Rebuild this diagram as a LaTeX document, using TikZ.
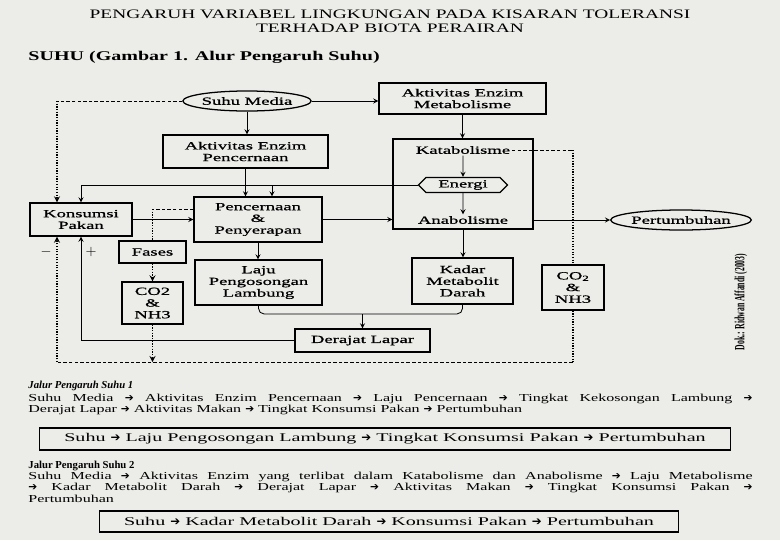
\documentclass[tikz,border=0pt]{standalone}
\usepackage{fontspec}
\setmainfont[FakeStretch=1.5]{Liberation Serif}
\newfontfamily\boxfont[FakeStretch=1.7,FakeBold=0.8]{Liberation Serif}
\newfontfamily\ringfont[FakeStretch=1.7]{Liberation Serif}
\newfontfamily\headfont{Liberation Serif}
\newfontfamily\dokfont[FakeStretch=0.55]{Liberation Serif}
\newfontfamily\arrfont{DejaVu Sans}
\newcommand{\arr}{{\arrfont\char"2794}}
\usetikzlibrary{shapes.geometric,shapes.symbols}
\definecolor{kertas}{RGB}{236,236,233}

\begin{document}
\begin{tikzpicture}[>=stealth,x=0.025cm,y=-0.025cm,semithick,
  kotak/.style={draw,line width=0.9pt,inner sep=1pt,align=center,font=\boxfont\fontsize{7.8}{8.3}\selectfont},
  elips/.style={draw,ellipse,line width=0.9pt,inner sep=0pt,font=\boxfont\fontsize{7.8}{8.3}\selectfont},
  teks/.style={inner sep=1pt,font=\boxfont\fontsize{7.8}{8.3}\selectfont},
  ringkas/.style={draw,line width=0.8pt,inner sep=0pt,font=\ringfont\fontsize{8.4}{9}\selectfont},
  paragraf/.style={anchor=north west,inner sep=0pt,text width=18.1cm,align=justify,font=\fontsize{7.6}{8.1}\selectfont},
  putus/.style={dash pattern=on 2.5pt off 1.5pt},
  titik/.style={densely dotted,line width=0.9pt}]
  \fill[kertas] (0,0) rectangle (780,540);
  \useasboundingbox (0,0) rectangle (780,540);
  %Judul
  \node[align=center,font=\fontsize{9.2}{10}\selectfont] (judul) at (390,21) {PENGARUH VARIABEL LINGKUNGAN PADA KISARAN TOLERANSI\\TERHADAP BIOTA PERAIRAN};
  \node[anchor=base west,inner sep=0pt,font=\bfseries\fontsize{9.5}{10}\selectfont] (subjudul) at (28,60) {SUHU (Gambar 1. Alur Pengaruh Suhu)};
  %Baris atas
  \node[elips,minimum width=2.875cm,minimum height=0.5cm] (suhu) at (247,101) {Suhu Media};
  \node[kotak,minimum width=4.175cm,minimum height=0.775cm] (aem) at (462.5,98.5) {Aktivitas Enzim\\Metabolisme};
  \node[kotak,minimum width=4.125cm,minimum height=0.825cm] (aep) at (245.5,151.5) {Aktivitas Enzim\\Pencernaan};
  %Blok metabolisme
  \node[kotak,minimum width=3.5cm,minimum height=2.25cm] (kat) at (463,184) {};
  \node[teks] (katab) at (463,150) {Katabolisme};
  \node[draw,signal,signal to=east and west,line width=0.9pt,minimum width=2.225cm,minimum height=0.375cm,inner sep=0pt,font=\boxfont\fontsize{7.8}{8.3}\selectfont] (energi) at (463,185) {Energi};
  \node[teks] (anab) at (463,220) {Anabolisme};
  %Baris tengah
  \node[kotak,minimum width=2.55cm,minimum height=0.825cm] (kons) at (81,219.5) {Konsumsi\\Pakan};
  \node[kotak,minimum width=3.2cm,minimum height=1.125cm] (pen) at (258,219.5) {Pencernaan\\\&\\Penyerapan};
  \node[elips,minimum width=3.45cm,minimum height=0.5cm] (tumbuh) at (681,220) {Pertumbuhan};
  %Baris bawah
  \node[kotak,minimum width=1.675cm,minimum height=0.55cm] (fases) at (152.5,252) {Fases};
  \node[kotak,minimum width=1.525cm,minimum height=1.05cm] (co2a) at (152.5,303) {CO2\\\&\\NH3};
  \node[kotak,minimum width=3.175cm,minimum height=1.125cm] (laju) at (258.5,282.5) {Laju\\Pengosongan\\Lambung};
  \node[kotak,minimum width=2.525cm,minimum height=1.15cm] (kadar) at (462.5,281) {Kadar\\Metabolit\\Darah};
  \node[kotak,minimum width=1.55cm,minimum height=1.125cm] (co2b) at (573,287.5) {CO\textsubscript{2}\\\&\\NH3};
  \node[kotak,minimum width=3.375cm,minimum height=0.575cm] (lapar) at (362.5,340.5) {Derajat Lapar};
  \node[rotate=90,font=\dokfont\bfseries\fontsize{10}{10}\selectfont] (dok) at (741,302) {Dok.: Ridwan Affandi (2003)};
  %Titik bantu
  \coordinate (kiri) at (57,101);
  \coordinate (bawahkiri) at (57,362);
  \coordinate (bawahkanan) at (573,362);
  \coordinate (kanan) at (573,150);
  \coordinate (cabang) at (272,185);
  \coordinate (fasesatas) at (152.5,209);
  \coordinate (gabung) at (362.5,314);
  %Panah
  \draw[->] (suhu.east) -- (suhu.east -| aem.west);
  \draw[->] (suhu.south) -- (suhu.south |- aep.north);
  \draw[putus] (suhu.west) -- (kiri);
  \draw[titik,->] (kiri) -- (kiri |- kons.north);
  \draw[->] (aem.south) -- (aem.south |- kat.north);
  \draw[->] (aep.south) -- (aep.south |- pen.north);
  \draw[->] (energi.west) -| (kons.north);
  \draw[->] (cabang) -- (cabang |- pen.north);
  \draw[->] (katab) -- (energi);
  \draw[->] (energi) -- (anab);
  \draw[putus] (katab.east) -- (kanan);
  \draw[titik] (kanan) -- (co2b.north);
  \draw[titik] (co2b.south) -- (bawahkanan);
  \draw[putus] (bawahkanan) -- (bawahkiri);
  \draw[titik,->] (bawahkiri) -- (bawahkiri |- kons.south);
  \draw[->] (kons) -- (pen);
  \draw[->] (pen.east) -- (pen.east -| kat.west);
  \draw[->] (anab -| kat.east) -- (tumbuh.west);
  \draw[putus] (pen.west |- fasesatas) -- (fasesatas);
  \draw[titik] (fasesatas) -- (fases.north);
  \draw[titik,->] (fases) -- (co2a);
  \draw[titik,->] (co2a.south) -- (co2a.south |- bawahkiri);
  \draw[->] (pen.south) -- (pen.south |- laju.north);
  \draw[->] (kat.south) -- (kat.south |- kadar.north);
  \draw[rounded corners=4pt] (laju.south) |- (gabung);
  \draw[rounded corners=4pt] (kadar.south) |- (gabung);
  \draw[->] (gabung) -- (lapar.north);
  \draw[->] (lapar.west) -| (kons.south);
  \node (minus) at (46,252) {$-$};
  \node (plus) at (91,252) {$+$};
  %Jalur 1
  \node[anchor=base west,inner sep=0pt,font=\headfont\bfseries\itshape\fontsize{7.6}{8}\selectfont] (jalur1) at (28,388) {Jalur Pengaruh Suhu 1};
  \node[paragraf] (isi1) at (28,393.5) {Suhu Media \arr{} Aktivitas Enzim Pencernaan \arr{} Laju Pencernaan \arr{} Tingkat Kekosongan Lambung \arr\linebreak Derajat Lapar \arr{} Aktivitas Makan \arr{} Tingkat Konsumsi Pakan \arr{} Pertumbuhan};
  \node[ringkas,minimum width=17.25cm,minimum height=0.55cm] (ringkas1) at (385,439) {Suhu \arr{} Laju Pengosongan Lambung \arr{} Tingkat Konsumsi Pakan \arr{} Pertumbuhan};
  %Jalur 2
  \node[anchor=base west,inner sep=0pt,font=\headfont\bfseries\fontsize{7.6}{8}\selectfont] (jalur2) at (28,468) {Jalur Pengaruh Suhu 2};
  \node[paragraf] (isi2) at (28,471.5) {Suhu Media \arr{} Aktivitas Enzim yang terlibat dalam Katabolisme dan Anabolisme \arr{} Laju Metabolisme\linebreak \arr{} Kadar Metabolit Darah \arr{} Derajat Lapar \arr{} Aktivitas Makan \arr{} Tingkat Konsumsi Pakan \arr\linebreak Pertumbuhan};
  \node[ringkas,minimum width=14.45cm,minimum height=0.525cm] (ringkas2) at (389,521.5) {Suhu \arr{} Kadar Metabolit Darah \arr{} Konsumsi Pakan \arr{} Pertumbuhan};
\end{tikzpicture}
\end{document}
